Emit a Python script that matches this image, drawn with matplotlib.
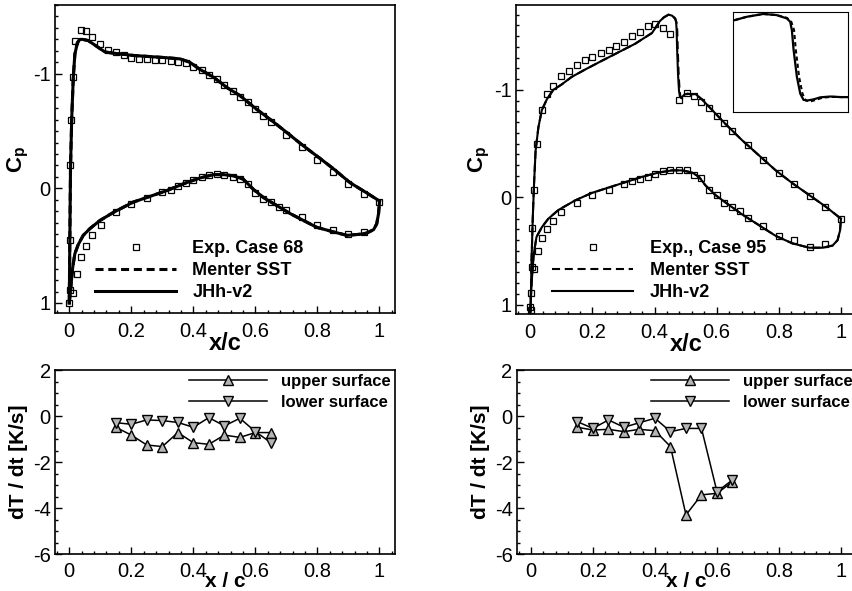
import matplotlib
matplotlib.use('Agg')
import matplotlib.pyplot as plt
from matplotlib.ticker import MultipleLocator, FixedLocator, NullLocator

plt.rcParams['font.family'] = ['Liberation Sans', 'DejaVu Sans']
plt.rcParams['mathtext.fontset'] = 'custom'
plt.rcParams['mathtext.bf'] = 'Liberation Sans:bold'
plt.rcParams['mathtext.rm'] = 'Liberation Sans'
plt.rcParams['axes.unicode_minus'] = False
plt.rcParams['lines.scale_dashes'] = False

# ---------------- data: Case 68 (top left) ----------------
exp68_up_x = [0.0, 0.001, 0.001, 0.002, 0.005, 0.013, 0.02, 0.037, 0.054, 0.072, 0.10, 0.126, 0.15,
              0.177, 0.20, 0.226, 0.25, 0.276, 0.30, 0.327, 0.352, 0.376, 0.40, 0.427, 0.45, 0.477,
              0.50, 0.527, 0.55, 0.575, 0.60, 0.626, 0.65, 0.70, 0.75, 0.80, 0.85, 0.90, 0.95, 1.0]
exp68_up_cp = [1.0, 0.89, 0.45, -0.20, -0.60, -0.97, -1.29, -1.38, -1.37, -1.32, -1.26, -1.21, -1.19,
               -1.16, -1.14, -1.13, -1.13, -1.12, -1.12, -1.11, -1.10, -1.09, -1.06, -1.03, -0.99, -0.95,
               -0.90, -0.85, -0.80, -0.75, -0.69, -0.63, -0.58, -0.47, -0.36, -0.25, -0.14, -0.04, 0.05, 0.12]
exp68_lo_x = [0.012, 0.024, 0.038, 0.054, 0.073, 0.102, 0.15, 0.20, 0.25, 0.30, 0.327, 0.352, 0.376,
              0.40, 0.427, 0.45, 0.477, 0.50, 0.527, 0.55, 0.575, 0.60, 0.626, 0.65, 0.675, 0.70, 0.75,
              0.80, 0.85, 0.90, 0.95]
exp68_lo_cp = [0.91, 0.75, 0.60, 0.50, 0.41, 0.32, 0.21, 0.14, 0.08, 0.03, 0.01, -0.02, -0.05,
               -0.07, -0.10, -0.12, -0.125, -0.12, -0.10, -0.08, -0.04, 0.04, 0.09, 0.12, 0.16, 0.19, 0.25,
               0.32, 0.36, 0.40, 0.38]

jhh68_up_x = [0.0, 0.001, 0.002, 0.004, 0.008, 0.013, 0.018, 0.026, 0.034, 0.043, 0.061, 0.088, 0.115,
              0.142, 0.206, 0.26, 0.314, 0.357, 0.389, 0.42, 0.465, 0.508, 0.55, 0.604, 0.658, 0.70,
              0.755, 0.809, 0.852, 0.905, 0.959, 1.0]
jhh68_up_cp = [1.0, 0.69, 0.40, -0.18, -0.62, -0.97, -1.17, -1.27, -1.30, -1.30, -1.29, -1.24, -1.19,
               -1.18, -1.16, -1.15, -1.14, -1.13, -1.10, -1.04, -0.97, -0.88, -0.81, -0.69, -0.58, -0.49,
               -0.37, -0.26, -0.17, -0.05, 0.04, 0.11]
jhh68_lo_x = [0.0, 0.004, 0.011, 0.018, 0.029, 0.045, 0.067, 0.099, 0.142, 0.206, 0.26, 0.314, 0.368,
              0.42, 0.465, 0.497, 0.529, 0.561, 0.594, 0.626, 0.669, 0.712, 0.755, 0.798, 0.852, 0.895,
              0.938, 0.959, 0.981, 0.991, 0.997, 1.0]
jhh68_lo_cp = [1.0, 0.89, 0.69, 0.57, 0.49, 0.41, 0.35, 0.28, 0.21, 0.12, 0.07, 0.02, -0.04,
               -0.09, -0.12, -0.12, -0.11, -0.08, 0.01, 0.08, 0.15, 0.22, 0.28, 0.34, 0.38, 0.41,
               0.40, 0.39, 0.36, 0.31, 0.22, 0.12]
sst68_up_x = list(jhh68_up_x)
sst68_up_cp = list(jhh68_up_cp)
sst68_lo_x = list(jhh68_lo_x)
sst68_lo_cp = list(jhh68_lo_cp)

# ---------------- data: Case 95 (top right) ----------------
exp95_up_x = [0.0, 0.002, 0.004, 0.006, 0.011, 0.02, 0.037, 0.053, 0.072, 0.10, 0.126, 0.15, 0.177,
              0.20, 0.227, 0.252, 0.277, 0.302, 0.327, 0.352, 0.378, 0.40, 0.426, 0.45, 0.478, 0.503,
              0.527, 0.551, 0.575, 0.60, 0.625, 0.65, 0.70, 0.75, 0.80, 0.85, 0.90, 0.95, 1.0]
exp95_up_cp = [1.02, 0.89, 0.65, 0.29, -0.07, -0.50, -0.81, -0.96, -1.04, -1.13, -1.18, -1.23, -1.28,
               -1.31, -1.34, -1.37, -1.41, -1.45, -1.50, -1.54, -1.59, -1.61, -1.58, -1.52, -0.91, -0.97,
               -0.94, -0.89, -0.83, -0.76, -0.69, -0.62, -0.49, -0.35, -0.23, -0.12, -0.01, 0.09, 0.20]
exp95_lo_x = [0.002, 0.013, 0.024, 0.037, 0.053, 0.072, 0.10, 0.15, 0.20, 0.252, 0.302, 0.327, 0.352,
              0.378, 0.40, 0.426, 0.45, 0.478, 0.503, 0.527, 0.551, 0.575, 0.60, 0.625, 0.65, 0.675,
              0.70, 0.75, 0.80, 0.85, 0.90, 0.95]
exp95_lo_cp = [1.05, 0.67, 0.50, 0.38, 0.30, 0.22, 0.14, 0.05, -0.02, -0.07, -0.12, -0.15, -0.17,
               -0.19, -0.22, -0.24, -0.25, -0.25, -0.25, -0.21, -0.18, -0.07, -0.02, 0.05, 0.09, 0.13,
               0.19, 0.27, 0.36, 0.40, 0.46, 0.44]

jhh95_up_x = [0.0, 0.002, 0.004, 0.008, 0.012, 0.017, 0.026, 0.037, 0.053, 0.074, 0.101, 0.133, 0.177,
              0.23, 0.284, 0.338, 0.392, 0.417, 0.43, 0.445, 0.457, 0.4665, 0.4695, 0.471, 0.4726,
              0.4756, 0.4787, 0.4817, 0.4854, 0.4909, 0.497, 0.506, 0.516, 0.532, 0.553, 0.586, 0.629,
              0.682, 0.736, 0.79, 0.844, 0.898, 0.952, 1.0]
jhh95_up_cp = [1.07, 0.90, 0.59, 0.19, -0.12, -0.43, -0.65, -0.81, -0.91, -1.0, -1.05, -1.12, -1.19,
               -1.27, -1.35, -1.43, -1.53, -1.64, -1.675, -1.70, -1.69, -1.66, -1.63, -1.557, -1.38,
               -1.14, -0.99, -0.935, -0.93, -0.94, -0.958, -0.965, -0.96, -0.96, -0.91, -0.81, -0.68,
               -0.53, -0.39, -0.25, -0.13, -0.02, 0.09, 0.20]
sst95_up_x = [0.0, 0.002, 0.004, 0.008, 0.012, 0.017, 0.026, 0.037, 0.053, 0.074, 0.101, 0.133, 0.177,
              0.23, 0.284, 0.338, 0.392, 0.417, 0.43, 0.445, 0.457, 0.4665, 0.4705, 0.473, 0.4746,
              0.4776, 0.4807, 0.4837, 0.4874, 0.4929, 0.499, 0.507, 0.516, 0.532, 0.553, 0.586, 0.629,
              0.682, 0.736, 0.79, 0.844, 0.898, 0.952, 1.0]
sst95_up_cp = [1.07, 0.90, 0.59, 0.19, -0.12, -0.43, -0.65, -0.81, -0.91, -1.0, -1.05, -1.12, -1.19,
               -1.27, -1.35, -1.43, -1.53, -1.64, -1.675, -1.70, -1.69, -1.665, -1.63, -1.557, -1.38,
               -1.14, -0.99, -0.93, -0.92, -0.935, -0.955, -0.962, -0.96, -0.96, -0.91, -0.81, -0.68,
               -0.53, -0.39, -0.25, -0.13, -0.02, 0.09, 0.20]
jhh95_lo_x = [0.0, 0.004, 0.011, 0.02, 0.037, 0.058, 0.09, 0.144, 0.198, 0.252, 0.306, 0.36, 0.413,
              0.456, 0.489, 0.521, 0.543, 0.564, 0.596, 0.629, 0.682, 0.736, 0.79, 0.844, 0.898, 0.941,
              0.973, 0.989, 0.997, 1.0]
jhh95_lo_cp = [1.07, 0.81, 0.53, 0.37, 0.28, 0.20, 0.12, 0.03, -0.04, -0.09, -0.14, -0.19, -0.23,
               -0.25, -0.25, -0.23, -0.19, -0.11, -0.02, 0.05, 0.16, 0.26, 0.36, 0.43, 0.47, 0.47,
               0.45, 0.40, 0.31, 0.20]
sst95_lo_x = list(jhh95_lo_x)
sst95_lo_cp = list(jhh95_lo_cp)

# ---------------- data: heating rates (bottom) ----------------
dt_x = [0.15, 0.20, 0.25, 0.30, 0.35, 0.40, 0.45, 0.50, 0.55, 0.60, 0.65]
dt68_upper = [-0.49, -0.83, -1.26, -1.33, -0.72, -1.16, -1.23, -0.83, -0.93, -0.72, -0.72]
dt68_lower = [-0.29, -0.36, -0.17, -0.20, -0.28, -0.49, -0.07, -0.43, -0.10, -0.68, -1.16]
dt95_upper = [-0.49, -0.61, -0.58, -0.68, -0.58, -0.64, -1.33, -4.30, -3.43, -3.36, -2.86]
dt95_lower = [-0.25, -0.54, -0.17, -0.49, -0.29, -0.10, -0.68, -0.54, -0.54, -3.29, -2.78]

x_ticks = [0, 0.2, 0.4, 0.6, 0.8, 1.0]
x_ticklabels = ['0', '0.2', '0.4', '0.6', '0.8', '1']
cp_ticks = [-1, 0, 1]
cp_ticklabels = ['-1', '0', '1']
dt_ticks = [2, 0, -2, -4, -6]
dt_ticklabels = ['2', '0', '-2', '-4', '-6']

# ---------------- figure ----------------
W, H = 852, 591
fig = plt.figure(figsize=(W / 100, H / 100), dpi=100)


def px_axes(l, t, r, b):
    return fig.add_axes([l / W, 1 - b / H, (r - l) / W, (b - t) / H])


def style(ax, yminor):
    for s in ax.spines.values():
        s.set_linewidth(1.2)
    ax.xaxis.set_major_locator(FixedLocator(x_ticks))
    ax.set_xticklabels(x_ticklabels)
    ax.xaxis.set_minor_locator(MultipleLocator(0.04))
    ax.yaxis.set_minor_locator(MultipleLocator(yminor))
    ax.tick_params(which='both', direction='in', top=False, right=False, width=1.0,
                   labelsize=14.5, color='black')
    ax.tick_params(which='major', length=5)
    ax.tick_params(which='minor', length=2.5)
    ax.tick_params(axis='x', which='major', pad=6)
    ax.tick_params(axis='y', which='major', pad=3)
    ax.set_xlim(-0.046, 1.05)


def legend_px(ax, handles, labels, left, top, fs, hl, htp, ls):
    leg = ax.legend(handles, labels, loc='upper left',
                    bbox_to_anchor=(left / W, 1 - top / H), bbox_transform=fig.transFigure,
                    frameon=False, borderpad=0, borderaxespad=0, numpoints=1,
                    handlelength=hl, handletextpad=htp, labelspacing=ls,
                    prop={'weight': 'bold', 'size': fs})
    return leg


def cp_panel(ax, sx_u, sy_u, sx_l, sy_l, jx_u, jy_u, jx_l, jy_l, ex_u, ey_u, ex_l, ey_l, lw, exp_label,
             leg_left):
    dash = (5.8, 3.4)
    l_sst, = ax.plot(sx_u, sy_u, color='k', lw=lw, ls=(0, dash))
    ax.plot(sx_l, sy_l, color='k', lw=lw, ls=(0, dash))
    l_jhh, = ax.plot(jx_u, jy_u, color='k', lw=lw)
    ax.plot(jx_l, jy_l, color='k', lw=lw)
    l_exp, = ax.plot(ex_u, ey_u, ls='none', marker='s', ms=4.3, mfc='none', mec='k', mew=0.9, zorder=5)
    ax.plot(ex_l, ey_l, ls='none', marker='s', ms=4.3, mfc='none', mec='k', mew=0.9, zorder=5)
    ax.yaxis.set_major_locator(FixedLocator(cp_ticks))
    ax.set_yticklabels(cp_ticklabels)
    legend_px(ax, [l_exp, l_sst, l_jhh], [exp_label, 'Menter SST', 'JHh-v2'],
              leg_left, 240, 13, 4.5, 0.9, 0.28)
    ax.set_xlabel('x/c', fontsize=17, fontweight='bold')
    ax.xaxis.set_label_coords(0.5, -0.062)
    ax.set_ylabel(r'$\mathbf{C}_{\mathbf{p}}$', fontsize=16)
    ax.yaxis.set_label_coords(-0.07, 0.5)


def dt_panel(ax, up, lo, leg_left):
    kw = dict(color='k', lw=1.1, ms=6.5, mfc='#b4b4b4', mec='k', mew=1.0)
    l_up, = ax.plot(dt_x, up, marker='^', **kw)
    l_lo, = ax.plot(dt_x, lo, marker='v', **kw)
    ax.set_ylim(-6, 2)
    ax.yaxis.set_major_locator(FixedLocator(dt_ticks))
    ax.set_yticklabels(dt_ticklabels)
    legend_px(ax, [l_up, l_lo], ['upper surface', 'lower surface'], leg_left, 374, 12, 4.7, 0.8, 0.36)
    ax.set_xlabel('x / c', fontsize=15, fontweight='bold')
    ax.xaxis.set_label_coords(0.5, -0.1)
    ax.set_ylabel('dT / dt [K/s]', fontsize=15, fontweight='bold')
    ax.yaxis.set_label_coords(-0.08, 0.5)


ax1 = px_axes(55, 5, 395, 313.3)
ax2 = px_axes(516, 5, 856.5, 314.3)
ax3 = px_axes(55, 370, 395, 554)
ax4 = px_axes(516.7, 370, 856.5, 554)

style(ax1, 0.1)
style(ax2, 0.1)
style(ax3, 0.5)
style(ax4, 0.5)

cp_panel(ax1, sst68_up_x, sst68_up_cp, sst68_lo_x, sst68_lo_cp, jhh68_up_x, jhh68_up_cp,
         jhh68_lo_x, jhh68_lo_cp, exp68_up_x, exp68_up_cp, exp68_lo_x, exp68_lo_cp, 2.2,
         'Exp. Case 68', 95)
ax1.set_ylim(1.09, -1.6)

cp_panel(ax2, sst95_up_x, sst95_up_cp, sst95_lo_x, sst95_lo_cp, jhh95_up_x, jhh95_up_cp,
         jhh95_lo_x, jhh95_lo_cp, exp95_up_x, exp95_up_cp, exp95_lo_x, exp95_lo_cp, 1.5,
         'Exp., Case 95', 552)
ax2.set_ylim(1.09, -1.79)

dt_panel(ax3, dt68_upper, dt68_lower, 189)
dt_panel(ax4, dt95_upper, dt95_lower, 651)

# inset (zoom of the shock region of case 95)
axin = px_axes(732.7, 11.7, 847.7, 111.7)
axin.plot(sst95_up_x, sst95_up_cp, color='k', lw=1.5, ls=(0, (3.0, 2.2)))
axin.plot(jhh95_up_x, jhh95_up_cp, color='k', lw=1.6)
axin.set_xlim(0.417, 0.522)
axin.set_ylim(-0.83, -1.72)
axin.xaxis.set_major_locator(NullLocator())
axin.yaxis.set_major_locator(NullLocator())
for s in axin.spines.values():
    s.set_linewidth(0.8)

fig.savefig('out.png', dpi=100)
